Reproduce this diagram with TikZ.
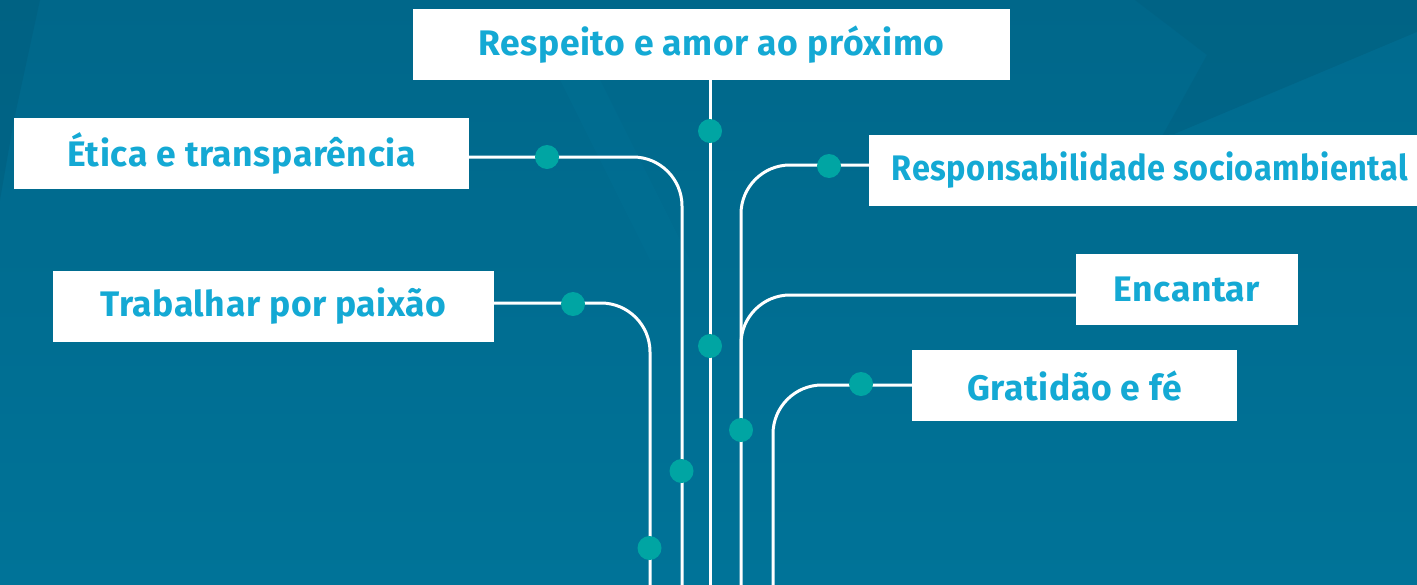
\documentclass[tikz,border=0pt]{standalone}
\usepackage{graphicx}
\usepackage{fontspec}
\setmainfont{Fira Sans}
\newfontfamily\valfont{Fira Sans}[LetterSpace=1.6]
\definecolor{bgtop}{HTML}{00678A}
\definecolor{bgbot}{HTML}{007398}
\definecolor{bgdark}{HTML}{005E7E}
\definecolor{bglight}{HTML}{00759A}
\definecolor{txtc}{HTML}{14A9D4}
\definecolor{dotc}{HTML}{00A5A3}
\tikzset{
  valbox/.style={fill=white, inner sep=0pt, minimum height=71pt, text=txtc,
    font=\valfont\fontsize{35.5}{40}\selectfont\bfseries},
  wire/.style={draw=white, line width=3pt, rounded corners=49pt},
  dotn/.style={circle, fill=dotc, inner sep=0pt, minimum size=24pt}
}
\begin{document}
\begin{tikzpicture}[x=1pt,y=-1pt]
\useasboundingbox (0,0) rectangle (1417,584);
% background
\shade[top color=bgtop, bottom color=bgbot] (0,0) rectangle (1417,584);
\fill[bgdark, opacity=0.5] (0,0) -- (40,0) -- (14,120) -- (0,200) -- cycle;
\fill[bgdark, opacity=0.4] (1135,0) -- (1417,0) -- (1417,32) -- (1160,140) -- (1207,55) -- cycle;
\fill[bglight, opacity=0.3] (1160,140) -- (1417,32) -- (1417,140) -- (1170,134) -- cycle;
\fill[bglight, opacity=0.25] (560,80) -- (600,80) -- (690,260) -- (650,260) -- cycle;
% boxes
\node[valbox, minimum width=597pt] (resp) at (711.5,44.5) {Respeito e amor ao próximo};
\node[valbox, minimum width=455pt] (etica) at (241.5,153.5) {Ética e transparência};
\node[valbox, minimum width=441pt] (trab) at (273.5,306.5) {Trabalhar por paixão};
\node[valbox, minimum width=562pt] (socio) at (1150,170) {\scalebox{0.915}[1]{Responsabilidade socioambiental}};
\node[valbox, minimum width=222pt] (enc) at (1187,289.5) {Encantar};
\node[valbox, minimum width=325pt] (grat) at (1074.5,385.5) {Gratidão e fé};
% free ends
\coordinate (endA) at (650,590);
\coordinate (endB) at (682,590);
\coordinate (endC) at (710,590);
\coordinate (endD) at (741,590);
\coordinate (endE) at (741,420);
\coordinate (endF) at (773,590);
% wires
\draw[wire] ([yshift=3.5pt]trab.east) -- (650,303) -- (endA);
\draw[wire] ([yshift=-3.5pt]etica.east) -- (682,157) -- (endB);
\draw[wire] (resp.south -| endC) -- (endC);
\draw[wire] ([yshift=5pt]socio.west) -- (741,165) -- (endD);
\draw[wire] ([yshift=-5.5pt]enc.west) -- (741,295) -- (endE);
\draw[wire] ([yshift=0.5pt]grat.west) -- (773,385) -- (endF);
% dots
\node[dotn] (d1) at (573,304) {};
\node[dotn] (d2) at (649.5,548) {};
\node[dotn] (d3) at (547,157) {};
\node[dotn] (d4) at (681.5,471) {};
\node[dotn] (d5) at (710,131) {};
\node[dotn] (d6) at (710,346) {};
\node[dotn] (d7) at (829,166) {};
\node[dotn] (d8) at (741,430) {};
\node[dotn] (d9) at (861,384) {};
\end{tikzpicture}
\end{document}
